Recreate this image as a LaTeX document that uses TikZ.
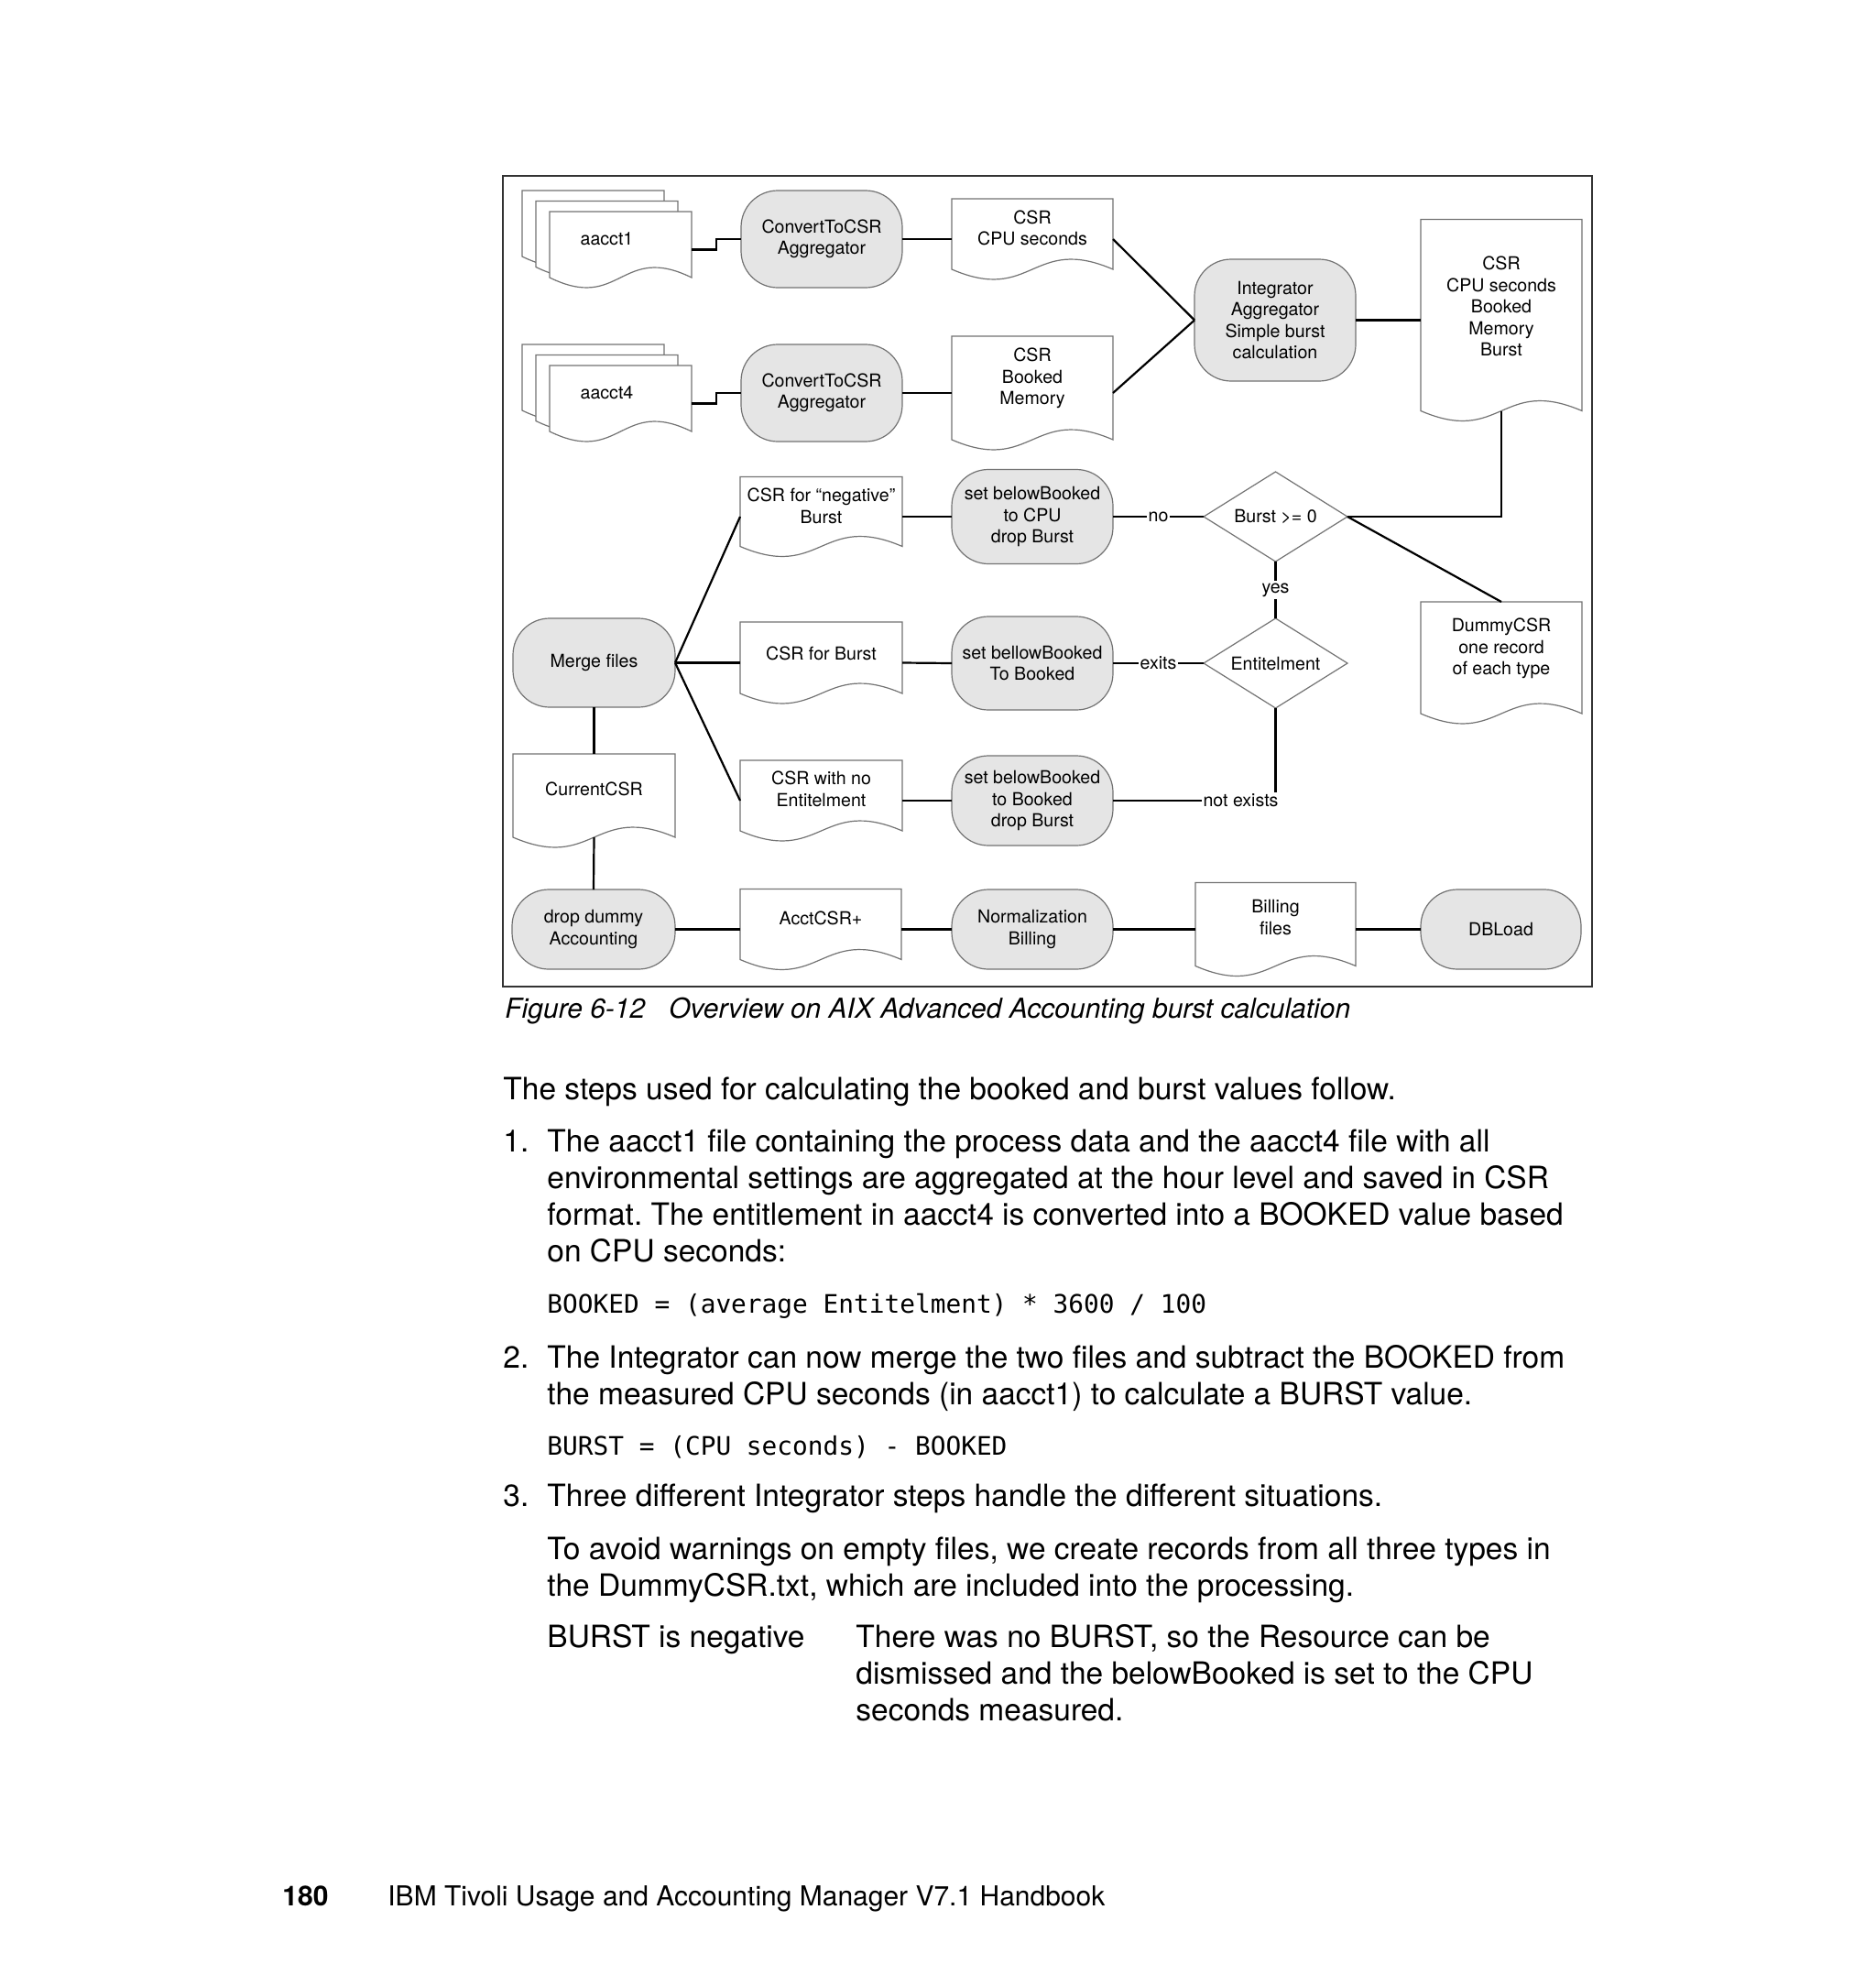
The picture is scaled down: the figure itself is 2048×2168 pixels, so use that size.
\documentclass[tikz,border=0pt]{standalone}
\usepackage{fontspec}
\setmainfont{TeX Gyre Heros}
\newfontfamily\codefont{DejaVu Sans Mono}
\usetikzlibrary{calc}
\frenchspacing
\newcommand\dfont{\fontsize{9.8}{11.8}\selectfont}
\newcommand\bfont{\fontsize{16.75}{20}\selectfont}
\newcommand\cfont{\fontsize{15}{18}\selectfont}
\tikzset{
  proc/.style={draw=black!55, line width=0.6pt, fill=black!10, rounded corners=20pt,
    inner sep=0pt, outer sep=0pt, align=center, font=\dfont},
  docbox/.style={inner sep=0pt, outer sep=0pt, draw=none},
  docline/.style={draw=black!55, line width=0.6pt, fill=white},
  doctext/.style={align=center, font=\dfont, inner sep=0pt},
  conn/.style={line width=1.1pt, black},
  lab/.style={fill=white, inner sep=0.8pt, font=\dfont},
  body/.style={anchor=base west, inner sep=0pt, font=\bfont},
}
\newcommand\drawdoc[1]{\draw[docline] (#1.north west) -- (#1.north east) -- ($(#1.south east)+(0,-11)$) .. controls ($(#1.south)+(0,-49)$) and ($(#1.south)+(0,27)$) .. ($(#1.south west)+(0,-11)$) -- cycle;}
\newcommand\drawdiam[1]{\draw[docline,fill=none] (#1.north) -- (#1.east) -- (#1.south) -- (#1.west) -- cycle;}
\begin{document}
\begin{tikzpicture}[x=0.5pt,y=-0.5pt]
\useasboundingbox (0,0) rectangle (2048,2168);
\fill[white] (0,0) rectangle (2048,2168);
% frame
\draw[line width=1pt, black!80] (549,192) rectangle (1738,1077);

% stacked input files
\node[docbox, minimum width=77.5pt, minimum height=41.5pt] (a1c) at (647.5,249.5) {};
\node[docbox, minimum width=77.5pt, minimum height=41.5pt] (a1b) at (662.5,261) {};
\node[docbox, minimum width=77.5pt, minimum height=41.5pt] (a1) at (677.5,272.5) {};
\drawdoc{a1c}\drawdoc{a1b}\drawdoc{a1}
\node[doctext] (a1t) at (a1b.center) {aacct1};
\node[docbox, minimum width=77.5pt, minimum height=41.5pt] (a4c) at (647.5,417.5) {};
\node[docbox, minimum width=77.5pt, minimum height=41.5pt] (a4b) at (662.5,429) {};
\node[docbox, minimum width=77.5pt, minimum height=41.5pt] (a4) at (677.5,440.5) {};
\drawdoc{a4c}\drawdoc{a4b}\drawdoc{a4}
\node[doctext] (a4t) at (a4b.center) {aacct4};

% process boxes
\node[proc, minimum width=88pt, minimum height=53pt] (conv1) at (897,261) {ConvertToCSR\\Aggregator};
\node[proc, minimum width=88pt, minimum height=53pt] (conv2) at (897,429) {ConvertToCSR\\Aggregator};
\node[proc, minimum width=88pt, minimum height=66.5pt] (integ) at (1392,349.5) {Integrator\\Aggregator\\Simple burst\\calculation};
\node[proc, minimum width=88pt, minimum height=51.5pt] (setneg) at (1127,564) {set belowBooked\\to CPU\\drop Burst};
\node[proc, minimum width=88pt, minimum height=51pt] (setburst) at (1127,724) {set bellowBooked\\To Booked};
\node[proc, minimum width=88pt, minimum height=49pt] (setnoent) at (1127,874) {set belowBooked\\to Booked\\drop Burst};
\node[proc, minimum width=88.5pt, minimum height=48.5pt] (merge) at (648.5,723.5) {Merge files};
\node[proc, minimum width=89pt, minimum height=43.5pt] (dropdummy) at (648,1014.5) {drop dummy\\Accounting};
\node[proc, minimum width=88pt, minimum height=43.5pt] (norm) at (1127,1014.5) {Normalization\\Billing};
\node[proc, minimum width=87.5pt, minimum height=43.5pt] (dbload) at (1638.5,1014.5) {DBLoad};

% documents
\node[docbox, minimum width=88pt, minimum height=44pt] (csrcpu) at (1127,261) {};
\node[docbox, minimum width=88pt, minimum height=62pt] (csrbm) at (1127,429) {};
\node[docbox, minimum width=88pt, minimum height=110pt] (bigcsr) at (1639,349.5) {};
\node[docbox, minimum width=88.5pt, minimum height=43.5pt] (csrneg) at (896.5,564) {};
\node[docbox, minimum width=88.5pt, minimum height=44.5pt] (csrburst) at (896.5,723.5) {};
\node[docbox, minimum width=88.5pt, minimum height=44pt] (csrnoent) at (896.5,874) {};
\node[docbox, minimum width=88pt, minimum height=66.5pt] (dummy) at (1639,723.5) {};
\node[docbox, minimum width=88.5pt, minimum height=51pt] (current) at (648.5,874) {};
\node[docbox, minimum width=88pt, minimum height=44pt] (acct) at (896,1014.5) {};
\node[docbox, minimum width=87.5pt, minimum height=51pt] (billing) at (1392.5,1014.5) {};
\drawdoc{csrcpu}\drawdoc{csrbm}\drawdoc{bigcsr}\drawdoc{csrneg}\drawdoc{csrburst}
\drawdoc{csrnoent}\drawdoc{dummy}\drawdoc{current}\drawdoc{acct}\drawdoc{billing}
\node[doctext] (csrcput) at ($(csrcpu.center)+(0,-12)$) {CSR\\CPU seconds};
\node[doctext] (csrbmt) at ($(csrbm.center)+(0,-16)$) {CSR\\Booked\\Memory};
\node[doctext] (bigcsrt) at ($(bigcsr.center)+(0,-15)$) {CSR\\CPU seconds\\Booked\\Memory\\Burst};
\node[doctext] (csrnegt) at ($(csrneg.center)+(0,-11.5)$) {CSR for “negative”\\Burst};
\node[doctext] (csrburstt) at ($(csrburst.center)+(0,-10.5)$) {CSR for Burst};
\node[doctext] (csrnoentt) at ($(csrnoent.center)+(0,-12.5)$) {CSR with no\\Entitelment};
\node[doctext] (dummyt) at ($(dummy.center)+(0,-15.5)$) {DummyCSR\\one record\\of each type};
\node[doctext] (currentt) at ($(current.center)+(0,-13)$) {CurrentCSR};
\node[doctext] (acctt) at ($(acct.center)+(0,-12)$) {AcctCSR+};
\node[doctext] (billingt) at ($(billing.center)+(0,-13)$) {Billing\\files};

% decisions
\node[docbox, minimum width=78.5pt, minimum height=49pt, font=\dfont] (burst) at (1392.5,564) {Burst >= 0};
\node[docbox, minimum width=78.5pt, minimum height=49pt, font=\dfont] (ent) at (1392.5,724) {Entitelment};
\drawdiam{burst}\drawdiam{ent}

% connectors
\draw[conn] (a1.east) -- ++(27,0) |- (conv1.west);
\draw[conn] (a4.east) -- ++(27,0) |- (conv2.west);
\draw[conn] (conv1.east) -- (csrcpu.west);
\draw[conn] (conv2.east) -- (csrbm.west);
\draw[conn] (csrcpu.east) -- (integ.west);
\draw[conn] (csrbm.east) -- (integ.west);
\draw[conn] (integ.east) -- (bigcsr.west);
\draw[conn] ($(bigcsr.south)+(0,-11)$) |- (burst.east);
\draw[conn] (burst.east) -- (dummy.north);
\draw[conn] (setneg.east) -- node[lab] (lno) {no} (burst.west);
\draw[conn] (burst.south) -- node[lab, inner sep=1.5pt] (lyes) {yes} (ent.north);
\draw[conn] (setburst.east) -- node[lab] (lexits) {exits} (ent.west);
\draw[conn] (ent.south) |- (setnoent.east);
\node[lab, anchor=east] (lnot) at ($(ent.south |- setnoent.east)+(5,0)$) {not exists};
\draw[conn] (merge.east) -- (csrneg.west);
\draw[conn] (merge.east) -- (csrburst.west);
\draw[conn] (merge.east) -- (csrnoent.west);
\draw[conn] (csrneg.east) -- (setneg.west);
\draw[conn] (csrburst.east) -- (setburst.west);
\draw[conn] (csrnoent.east) -- (setnoent.west);
\draw[conn] (merge.south) -- (current.north);
\draw[conn] ($(current.south)+(0,-11)$) -- (dropdummy.north);
\draw[conn] (dropdummy.east) -- (acct.west);
\draw[conn] (acct.east) -- (norm.west);
\draw[conn] (norm.east) -- (billing.west);
\draw[conn] (billing.east) -- (dbload.west);

% caption
\node[body, font=\cfont\itshape] (capa) at (551,1111) {Figure 6-12};
\node[body, font=\cfont\itshape] (capb) at (730,1111) {Overview on AIX Advanced Accounting burst calculation};

% body text
\node[body] (p0) at (549,1200) {The steps used for calculating the booked and burst values follow.};
\node[body] (n1) at (549,1257) {1.};
\node[body] (p1a) at (597,1257) {The aacct1 file containing the process data and the aacct4 file with all};
\node[body] (p1b) at (597,1297) {environmental settings are aggregated at the hour level and saved in CSR};
\node[body] (p1c) at (597,1337) {format. The entitlement in aacct4 is converted into a BOOKED value based};
\node[body] (p1d) at (597,1377) {on CPU seconds:};
\node[body, font=\codefont\fontsize{13.9}{16}\selectfont] (code1) at (597,1433) {BOOKED = (average Entitelment) * 3600 / 100};
\node[body] (n2) at (549,1493) {2.};
\node[body] (p2a) at (597,1493) {The Integrator can now merge the two files and subtract the BOOKED from};
\node[body] (p2b) at (597,1533) {the measured CPU seconds (in aacct1) to calculate a BURST value.};
\node[body, font=\codefont\fontsize{13.9}{16}\selectfont] (code2) at (597,1588) {BURST = (CPU seconds) - BOOKED};
\node[body] (n3) at (549,1644) {3.};
\node[body] (p3a) at (597,1644) {Three different Integrator steps handle the different situations.};
\node[body] (p3b) at (597,1702) {To avoid warnings on empty files, we create records from all three types in};
\node[body] (p3c) at (597,1742) {the DummyCSR.txt, which are included into the processing.};
\node[body] (p4l) at (597,1798) {BURST is negative};
\node[body] (p4a) at (934,1798) {There was no BURST, so the Resource can be};
\node[body] (p4b) at (934,1838) {dismissed and the belowBooked is set to the CPU};
\node[body] (p4c) at (934,1878) {seconds measured.};

% footer
\node[body, font=\cfont\bfseries] (pg) at (308,2080) {180};
\node[body, font=\cfont] (ft) at (423,2080) {IBM Tivoli Usage and Accounting Manager V7.1 Handbook};
\end{tikzpicture}
\end{document}
